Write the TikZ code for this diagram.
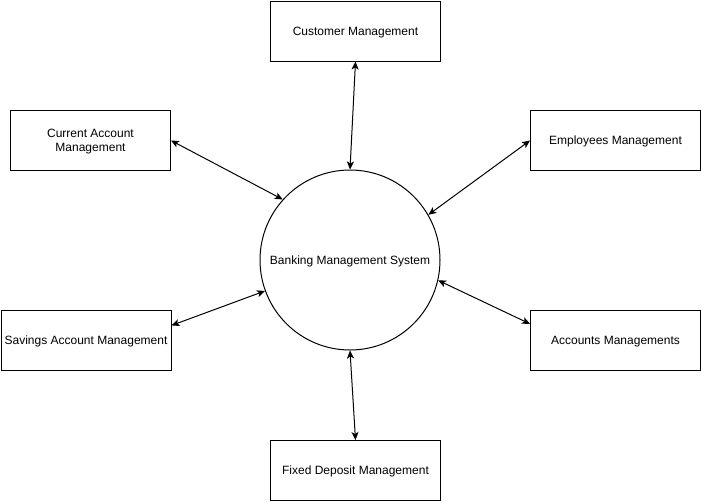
\documentclass[tikz,border=0pt]{standalone}
\usepackage{fontspec}
\setmainfont{Liberation Sans}
\usetikzlibrary{arrows.meta}
\begin{document}
\begin{tikzpicture}[x=1pt,y=-1pt,
  box/.style={draw, line width=1pt, minimum width=170pt, minimum height=60pt, inner sep=0pt, align=center, font=\fontsize{12}{14}\selectfont, anchor=north west, text depth=-1pt},
  hub/.style={draw, line width=1pt, circle, minimum size=180pt, inner sep=0pt, font=\fontsize{12}{14}\selectfont, text depth=-1pt},
  link/.style={line width=1pt, {Stealth[length=8pt,width=7pt,inset=2pt]}-{Stealth[length=8pt,width=7pt,inset=2pt]}}]
\useasboundingbox (0,0) rectangle (701,501);
\node[box, minimum width=170pt] (cust) at (270,0.5) {Customer Management};
\node[box, minimum width=160pt] (cur) at (10,110) {Current Account\\Management};
\node[box] (emp) at (530,110) {Employees Management};
\node[box] (sav) at (0.5,310) {Savings Account Management};
\node[box] (acc) at (530,310) {Accounts Managements};
\node[box] (fix) at (270,440) {Fixed Deposit Management};
\node[hub] (bms) at (350,260) {Banking Management System};
\draw[link] (cust.south) -- (bms.90);
\draw[link] (cur.east) -- (bms.138);
\draw[link] (emp.west) -- (bms.30);
\draw[link] (sav.10) -- (bms.200);
\draw[link] (acc.169) -- (bms.-13);
\draw[link] (bms.270) -- (fix.north);
\end{tikzpicture}
\end{document}
